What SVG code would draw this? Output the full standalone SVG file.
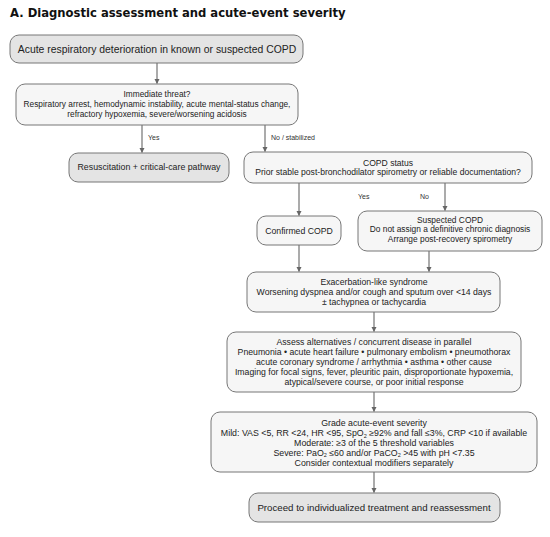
<svg xmlns="http://www.w3.org/2000/svg" width="550" height="537" viewBox="0 0 550 537">
<style>
.title{font-family:"DejaVu Sans",sans-serif;font-weight:bold;font-size:11.6px;fill:#111}
.t{font-family:"Liberation Sans",Arial,sans-serif;fill:#222;text-anchor:middle;font-size:8.7px}
.lbl{font-family:"Liberation Sans",Arial,sans-serif;font-size:7px;fill:#333}
.dark{fill:#e4e4e4;stroke:#777;stroke-width:1}
.light{fill:#f6f6f6;stroke:#777;stroke-width:1}
.c{stroke:#666;stroke-width:1.1;fill:none;marker-end:url(#ah)}
.sub{font-size:5.5px}
</style>
<defs>
<marker id="ah" markerWidth="8" markerHeight="8" refX="4.5" refY="2.5" orient="auto" markerUnits="userSpaceOnUse">
<path d="M0,0 L5,2.5 L0,5 Z" fill="#666"/>
</marker>
</defs>
<rect width="550" height="537" fill="#fff"/>
<text class="title" x="10" y="17">A. Diagnostic assessment and acute-event severity</text>

<g id="connectors">
<path class="c" d="M157,63 V83.5"/>
<path class="c" d="M142,125 V152.5"/>
<path class="c" d="M265,125 V151.5"/>
<path class="c" d="M299,183 V215.5"/>
<path class="c" d="M445,183 V210.5"/>
<path class="c" d="M299,245 V271.5"/>
<path class="c" d="M429,251 V271.5"/>
<path class="c" d="M374,312 V331.5"/>
<path class="c" d="M374,392 V411.5"/>
<path class="c" d="M374,472 V492.5"/>
<text class="lbl" x="148" y="140">Yes</text>
<text class="lbl" x="271" y="140">No / stabilized</text>
<text class="lbl" x="358" y="199">Yes</text>
<text class="lbl" x="420" y="199">No</text>
</g>

<g id="n1">
<rect class="dark" x="10" y="35" width="293" height="28" rx="9"/>
<text class="t" style="font-size:10.4px" x="157" y="53">Acute respiratory deterioration in known or suspected COPD</text>
</g>
<g id="n2">
<rect class="light" x="16" y="84" width="282" height="41" rx="9"/>
<text class="t" style="font-size:8.3px" x="157" y="97">Immediate threat?</text>
<text class="t" style="font-size:8.3px" x="157" y="107">Respiratory arrest, hemodynamic instability, acute mental-status change,</text>
<text class="t" style="font-size:8.3px" x="157" y="117">refractory hypoxemia, severe/worsening acidosis</text>
</g>
<g id="n3">
<rect class="dark" x="69" y="153" width="160" height="29" rx="9"/>
<text class="t" style="font-size:8.8px" x="149" y="170">Resuscitation + critical-care pathway</text>
</g>
<g id="n4">
<rect class="light" x="244" y="152" width="288" height="31" rx="9"/>
<text class="t" style="font-size:8.6px" x="388" y="166">COPD status</text>
<text class="t" style="font-size:8.6px" x="388" y="175">Prior stable post-bronchodilator spirometry or reliable documentation?</text>
</g>
<g id="n5">
<rect class="light" x="257" y="216" width="84" height="29" rx="9"/>
<text class="t" x="299" y="234">Confirmed COPD</text>
</g>
<g id="n6">
<rect class="light" x="358" y="211" width="184" height="40" rx="9"/>
<text class="t" style="font-size:8.4px" x="450" y="223">Suspected COPD</text>
<text class="t" style="font-size:8.4px" x="450" y="232">Do not assign a definitive chronic diagnosis</text>
<text class="t" style="font-size:8.4px" x="450" y="242">Arrange post-recovery spirometry</text>
</g>
<g id="n7">
<rect class="light" x="247" y="272" width="253" height="40" rx="9"/>
<text class="t" x="374" y="285">Exacerbation-like syndrome</text>
<text class="t" x="374" y="295">Worsening dyspnea and/or cough and sputum over &lt;14 days</text>
<text class="t" x="374" y="305">± tachypnea or tachycardia</text>
</g>
<g id="n8">
<rect class="light" x="227" y="332" width="294" height="60" rx="9"/>
<text class="t" x="374" y="345">Assess alternatives / concurrent disease in parallel</text>
<text class="t" x="374" y="355">Pneumonia • acute heart failure • pulmonary embolism • pneumothorax</text>
<text class="t" x="374" y="365">acute coronary syndrome / arrhythmia • asthma • other cause</text>
<text class="t" x="374" y="375">Imaging for focal signs, fever, pleuritic pain, disproportionate hypoxemia,</text>
<text class="t" x="374" y="385">atypical/severe course, or poor initial response</text>
</g>
<g id="n9">
<rect class="light" x="211" y="412" width="326" height="60" rx="9"/>
<text class="t" style="font-size:8.8px" x="374" y="426">Grade acute-event severity</text>
<text class="t" style="font-size:8.8px" x="374" y="436">Mild: VAS &lt;5, RR &lt;24, HR &lt;95, SpO<tspan class="sub" dy="1.5">2</tspan><tspan dy="-1.5"> ≥92% and fall ≤3%, CRP &lt;10 if available</tspan></text>
<text class="t" style="font-size:8.8px" x="374" y="446">Moderate: ≥3 of the 5 threshold variables</text>
<text class="t" style="font-size:8.8px" x="374" y="455.5">Severe: PaO<tspan class="sub" dy="1.5">2</tspan><tspan dy="-1.5"> ≤60 and/or PaCO</tspan><tspan class="sub" dy="1.5">2</tspan><tspan dy="-1.5"> &gt;45 with pH &lt;7.35</tspan></text>
<text class="t" style="font-size:8.8px" x="374" y="465.5">Consider contextual modifiers separately</text>
</g>
<g id="n10">
<rect class="dark" x="249" y="493" width="251" height="29" rx="9"/>
<text class="t" style="font-size:9.7px" x="374" y="511">Proceed to individualized treatment and reassessment</text>
</g>
</svg>
